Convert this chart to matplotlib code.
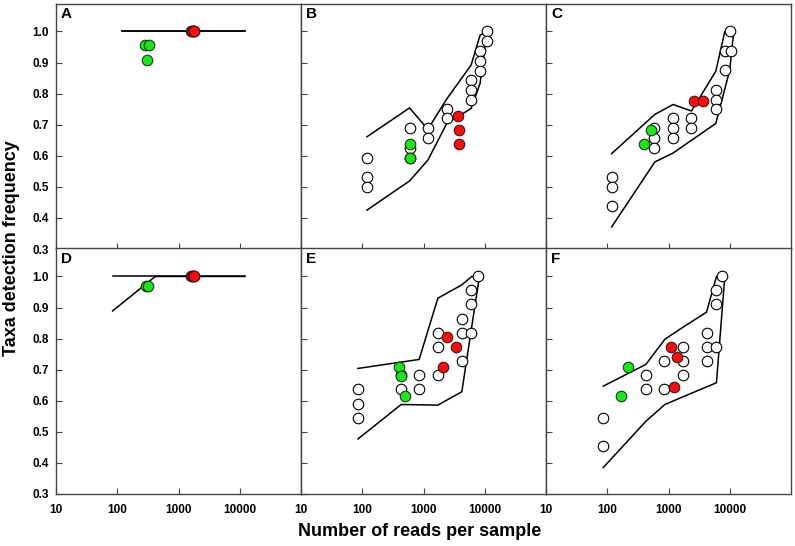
import numpy as np
import matplotlib
matplotlib.use('Agg')
import matplotlib.pyplot as plt

plt.rcParams['font.family'] = ['Liberation Sans Narrow', 'Liberation Sans', 'DejaVu Sans']
plt.rcParams['font.weight'] = 'bold'

# ---- data (reads per sample, detection frequency) ----
# panel A
a_up_x = [118, 12000]
a_up_y = [1.0, 1.0]
a_lo_x = [118, 12000]
a_lo_y = [1.0, 1.0]
a_white_x, a_white_y = [], []
a_green_x = [285, 331, 303]
a_green_y = [0.956, 0.956, 0.909]
a_red_x = [1620, 1680, 1720, 1760, 1800]
a_red_y = [1.0, 1.0, 1.0, 1.0, 1.0]

# panel B
b_up_x = [119, 592, 1178, 2400, 5990, 8390, 10800]
b_up_y = [0.661, 0.754, 0.685, 0.783, 0.892, 0.988, 0.999]
b_lo_x = [119, 592, 1178, 2400, 5990, 8390, 10800]
b_lo_y = [0.425, 0.519, 0.586, 0.704, 0.752, 0.833, 0.994]
b_white_x = [119, 119, 119, 592, 600, 610, 1190, 1190, 2400, 2400,
             5990, 5990, 5990, 8390, 8390, 8390, 10800, 11000]
b_white_y = [0.594, 0.532, 0.500, 0.688, 0.624, 0.594, 0.689, 0.658, 0.751, 0.720,
             0.843, 0.813, 0.781, 0.937, 0.906, 0.873, 1.0, 0.969]
b_green_x = [592, 610]
b_green_y = [0.637, 0.592]
b_red_x = [3630, 3800, 3800]
b_red_y = [0.729, 0.682, 0.637]

# panel C
c_up_x = [118, 598, 1190, 2370, 5920, 8290, 11600]
c_up_y = [0.607, 0.733, 0.765, 0.744, 0.872, 0.999, 0.999]
c_lo_x = [118, 598, 1190, 5920, 10000, 11600]
c_lo_y = [0.371, 0.580, 0.609, 0.704, 0.876, 0.999]
c_white_x = [118, 118, 118, 585, 585, 585, 1190, 1190, 1190, 2370, 2370,
             5920, 5920, 5920, 8290, 8290, 10000, 10500]
c_white_y = [0.532, 0.500, 0.439, 0.689, 0.658, 0.626, 0.720, 0.689, 0.658, 0.720, 0.689,
             0.813, 0.781, 0.751, 0.937, 0.876, 1.0, 0.937]
c_green_x = [515, 391]
c_green_y = [0.682, 0.637]
c_red_x = [2590, 3670]
c_red_y = [0.775, 0.775]

# panel D
d_up_x = [84, 12000]
d_up_y = [1.0, 1.0]
d_lo_x = [84, 417, 12000]
d_lo_y = [0.889, 1.0, 1.0]
d_white_x, d_white_y = [], []
d_green_x = [290, 320]
d_green_y = [0.968, 0.968]
d_red_x = [1620, 1680, 1720, 1760, 1800]
d_red_y = [1.0, 1.0, 1.0, 1.0, 1.0]

# panel E
e_up_x = [85, 849, 1714, 4220, 6140, 8180]
e_up_y = [0.704, 0.733, 0.930, 0.973, 1.0, 1.0]
e_lo_x = [85, 432, 1714, 4220, 8180]
e_lo_y = [0.477, 0.588, 0.586, 0.629, 1.0]
e_white_x = [85, 85, 85, 432, 432, 860, 860, 1714, 1714, 1714,
             4250, 4250, 4250, 5950, 5950, 5950, 7800]
e_white_y = [0.637, 0.591, 0.546, 0.683, 0.637, 0.683, 0.637, 0.819, 0.773, 0.683,
             0.863, 0.819, 0.728, 0.955, 0.910, 0.819, 1.0]
e_green_x = [391, 432, 503]
e_green_y = [0.710, 0.680, 0.615]
e_red_x = [2400, 3370, 2090]
e_red_y = [0.806, 0.774, 0.710]

# panel F
f_up_x = [86, 427, 872, 1733, 4170, 6070, 7590]
f_up_y = [0.647, 0.717, 0.798, 0.837, 0.885, 1.0, 1.0]
f_lo_x = [86, 427, 872, 1733, 6070, 8300]
f_lo_y = [0.385, 0.534, 0.588, 0.613, 0.658, 1.0]
f_white_x = [86, 86, 427, 427, 850, 850, 1733, 1733, 1733, 4270, 4270, 4270,
             6070, 6070, 6070, 7590]
f_white_y = [0.546, 0.455, 0.683, 0.637, 0.728, 0.637, 0.773, 0.728, 0.683, 0.819, 0.773, 0.728,
             0.773, 0.955, 0.910, 1.0]
f_green_x = [220, 167]
f_green_y = [0.710, 0.615]
f_red_x = [1090, 1400, 1220]
f_red_y = [0.774, 0.742, 0.645]

panels = [
    ('A', a_up_x, a_up_y, a_lo_x, a_lo_y, a_white_x, a_white_y, a_green_x, a_green_y, a_red_x, a_red_y),
    ('B', b_up_x, b_up_y, b_lo_x, b_lo_y, b_white_x, b_white_y, b_green_x, b_green_y, b_red_x, b_red_y),
    ('C', c_up_x, c_up_y, c_lo_x, c_lo_y, c_white_x, c_white_y, c_green_x, c_green_y, c_red_x, c_red_y),
    ('D', d_up_x, d_up_y, d_lo_x, d_lo_y, d_white_x, d_white_y, d_green_x, d_green_y, d_red_x, d_red_y),
    ('E', e_up_x, e_up_y, e_lo_x, e_lo_y, e_white_x, e_white_y, e_green_x, e_green_y, e_red_x, e_red_y),
    ('F', f_up_x, f_up_y, f_lo_x, f_lo_y, f_white_x, f_white_y, f_green_x, f_green_y, f_red_x, f_red_y),
]

yticks = [0.3, 0.4, 0.5, 0.6, 0.7, 0.8, 0.9, 1.0]
xticks = [10, 100, 1000, 10000]

fig = plt.figure(figsize=(7.95, 5.46), dpi=100)
W, H = 795.0, 546.0
left, pw = 56 / W, 245 / W
bottoms = [(546 - 249) / H, (546 - 494) / H]
ph = 245.5 / H

ms = 7.6
for i, p in enumerate(panels):
    label, ux, uy, lx, ly, wx, wy, gx, gy, rx, ry = p
    row, col = divmod(i, 3)
    ax = fig.add_axes([left + col * pw, bottoms[row], pw, ph])
    ax.set_xscale('log')
    ax.set_xlim(10, 100000)
    ax.set_ylim(0.3, 1.09)
    ax.plot(ux, uy, color='black', lw=1.1, zorder=2)
    ax.plot(lx, ly, color='black', lw=1.1, zorder=2)
    ax.plot(wx, wy, 'o', ms=ms, mfc='white', mec='black', mew=0.8, zorder=3)
    ax.plot(gx, gy, 'o', ms=ms, mfc='#22e022', mec='#104010', mew=0.8, zorder=4)
    ax.plot(rx, ry, 'o', ms=ms, mfc='#ee1111', mec='#501010', mew=0.8, zorder=4)
    ax.set_xticks(xticks)
    ax.xaxis.set_minor_locator(matplotlib.ticker.NullLocator())
    ax.set_yticks(yticks)
    ax.tick_params(direction='in', length=4, width=0.8, color='#444444',
                   labelsize=8.5, top=False, right=False)
    ax.tick_params(axis='y', pad=5)
    ax.tick_params(axis='x', pad=7)
    if row == 1:
        ax.set_xticklabels([str(t) for t in xticks], fontweight='bold')
    else:
        ax.set_xticklabels([])
    if col == 0:
        ax.set_yticklabels(['%.1f' % t for t in yticks], fontweight='bold')
    else:
        ax.set_yticklabels([])
    for s in ax.spines.values():
        s.set_color('#444444')
        s.set_linewidth(1.0)
    ax.text(0.02, 0.985, label, transform=ax.transAxes, ha='left', va='top',
            fontsize=11, fontweight='bold')

fig.text(12 / W, 1 - 248 / H, 'Taxa detection frequency', rotation=90,
         ha='center', va='center', fontsize=13, fontweight='bold')
fig.text(420 / W, 1 - 531 / H, 'Number of reads per sample',
         ha='center', va='center', fontsize=13, fontweight='bold')

fig.savefig('out.png', dpi=100)
